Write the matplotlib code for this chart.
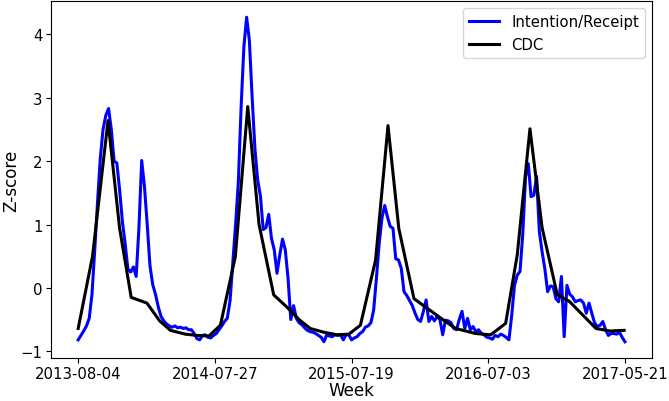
import numpy as np
import matplotlib
matplotlib.use("Agg")
import matplotlib.pyplot as plt

# weekly z-score of intention/receipt signal (one value per week)
intention = [
    -0.82, -0.75, -0.68, -0.60, -0.48, -0.10, 0.60, 1.35, 2.04, 2.50,
    2.72, 2.83, 2.50, 2.00, 1.97, 1.55, 1.05, 0.70, 0.30, 0.25,
    0.33, 0.18, 0.95, 2.01, 1.60, 1.00, 0.35, 0.05, -0.10, -0.30,
    -0.45, -0.52, -0.57, -0.60, -0.62, -0.60, -0.63, -0.62, -0.64, -0.63,
    -0.66, -0.66, -0.72, -0.80, -0.82, -0.75, -0.74, -0.78, -0.79, -0.75,
    -0.72, -0.66, -0.60, -0.53, -0.48, -0.20, 0.40, 1.00, 1.67, 2.85,
    3.80, 4.27, 3.90, 3.00, 2.20, 1.70, 1.45, 0.92, 0.95, 1.16,
    0.78, 0.60, 0.23, 0.52, 0.77, 0.60, 0.15, -0.50, -0.28, -0.48,
    -0.55, -0.58, -0.63, -0.67, -0.69, -0.70, -0.72, -0.75, -0.78, -0.85,
    -0.74, -0.76, -0.77, -0.74, -0.75, -0.74, -0.82, -0.74, -0.74, -0.82,
    -0.79, -0.77, -0.72, -0.69, -0.62, -0.60, -0.55, -0.35, 0.15, 0.70,
    1.10, 1.30, 1.12, 0.97, 0.94, 0.46, 0.44, 0.31, -0.06, -0.12,
    -0.20, -0.28, -0.40, -0.50, -0.53, -0.37, -0.19, -0.53, -0.45, -0.52,
    -0.45, -0.50, -0.74, -0.51, -0.52, -0.55, -0.64, -0.66, -0.50, -0.37,
    -0.64, -0.48, -0.66, -0.61, -0.69, -0.66, -0.72, -0.74, -0.78, -0.79,
    -0.81, -0.75, -0.77, -0.73, -0.75, -0.78, -0.82, -0.43, 0.04, 0.20,
    0.26, 0.85, 1.75, 1.96, 1.44, 1.46, 1.76, 0.89, 0.57, 0.30,
    -0.06, 0.03, 0.02, -0.17, -0.22, 0.18, -0.77, 0.04, -0.10, -0.14,
    -0.22, -0.20, -0.19, -0.24, -0.40, -0.24, -0.40, -0.55, -0.61, -0.59,
    -0.53, -0.66, -0.75, -0.72, -0.72, -0.73, -0.70, -0.78, -0.85,
]

# CDC z-score, sampled less often (position given in weeks)
cdc_week = [0, 5.2, 10.8, 15, 19.2, 24.9, 29.5, 33.4, 38.8, 43, 47.3,
            51.5, 56.9, 61.4, 65.5, 70.8, 75.5, 80, 84, 89, 93.8, 98,
            102.2, 107.7, 112.2, 116.1, 121.6, 133, 136.7, 143.9, 149.4,
            154.8, 159, 163.6, 168, 173.5, 177.8, 187.5, 192.5, 197.7]
cdc_z = [-0.64, 0.50, 2.64, 0.94, -0.15, -0.24, -0.52, -0.67, -0.73, -0.75, -0.76,
         -0.59, 0.49, 2.86, 1.00, -0.11, -0.30, -0.50, -0.64, -0.70, -0.74, -0.73,
         -0.59, 0.44, 2.56, 0.94, -0.17, -0.53, -0.64, -0.72, -0.74,
         -0.56, 0.52, 2.51, 0.95, -0.11, -0.21, -0.64, -0.68, -0.67]

tick_labels = ["2013-08-04", "2014-07-27", "2015-07-19", "2016-07-03", "2017-05-21"]

weeks = np.arange(len(intention))

fig, ax = plt.subplots(figsize=(6.69, 4.02), dpi=100)
fig.subplots_adjust(left=0.076, right=0.975, top=0.995, bottom=0.107)

ax.plot(weeks, intention, color="#0000ff", lw=2.2, label="Intention/Receipt")
ax.plot(cdc_week, cdc_z, color="black", lw=2.2, label="CDC")

ax.set_xticks(np.linspace(0, len(intention) - 1, len(tick_labels)))
ax.set_xticklabels(tick_labels)
ax.tick_params(labelsize=10.7, pad=2.5)
ax.set_xlabel("Week", fontsize=12.1, labelpad=0)
ax.set_ylabel("Z-score", fontsize=12.1, labelpad=0)
ax.legend(loc="upper right", fontsize=10.7)

fig.savefig("out.png", dpi=100)
